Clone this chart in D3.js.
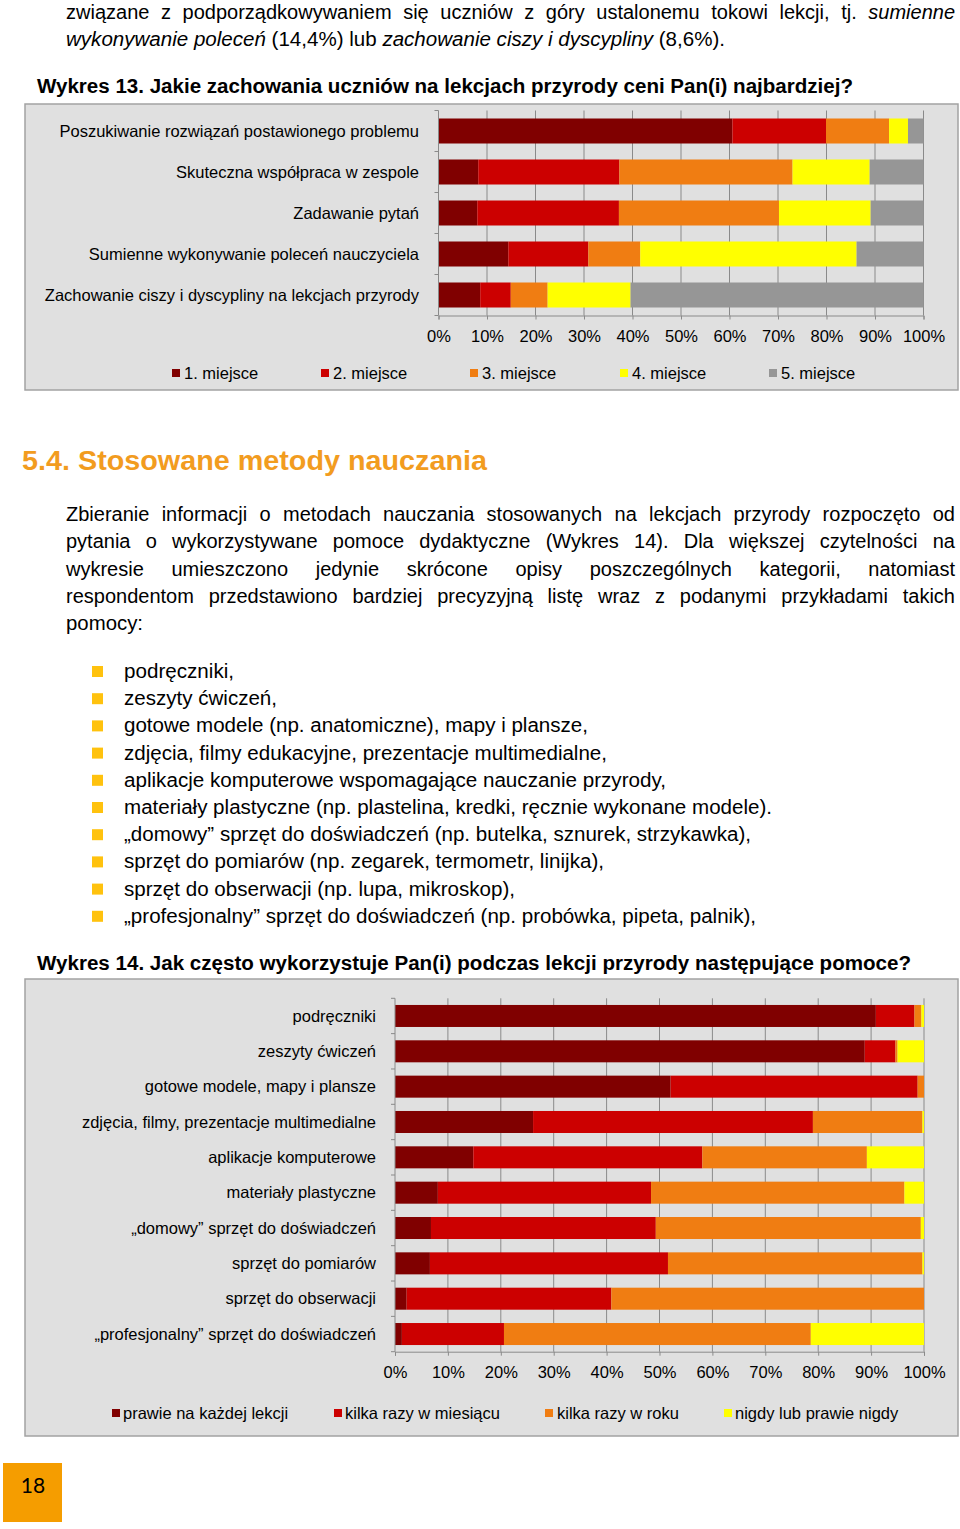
<!DOCTYPE html>
<html><head><meta charset="utf-8">
<script src="https://cdn.jsdelivr.net/npm/d3@7"></script>
<style>body{margin:0;background:#fff}svg{display:block}</style>
</head><body><svg id="page" width="960" height="1529"></svg>
<script>
// ---------- DATA ----------
const categories1 = [
  "Poszukiwanie rozwiązań postawionego problemu",
  "Skuteczna współpraca w zespole",
  "Zadawanie pytań",
  "Sumienne wykonywanie poleceń nauczyciela",
  "Zachowanie ciszy i dyscypliny na lekcjach przyrody"
];
const series1Names = ["1. miejsce", "2. miejsce", "3. miejsce", "4. miejsce", "5. miejsce"];
const place1 = [60.6, 8.2, 8.0, 14.4, 8.6];
const place2 = [19.3, 29.1, 29.2, 16.5, 6.3];
const place3 = [13.0, 35.7, 33.0, 10.7, 7.6];
const place4 = [3.9, 15.9, 18.9, 44.6, 17.1];
const place5 = [3.2, 11.1, 10.9, 13.8, 60.4];

const categories2 = [
  "podręczniki",
  "zeszyty ćwiczeń",
  "gotowe modele, mapy i plansze",
  "zdjęcia, filmy, prezentacje multimedialne",
  "aplikacje komputerowe",
  "materiały plastyczne",
  "„domowy” sprzęt do doświadczeń",
  "sprzęt do pomiarów",
  "sprzęt do obserwacji",
  "„profesjonalny” sprzęt do doświadczeń"
];
const series2Names = ["prawie na każdej lekcji", "kilka razy w miesiącu", "kilka razy w roku", "nigdy lub prawie nigdy"];
const everyLesson = [90.9, 88.8, 52.1, 26.1, 14.8, 8.1, 6.8, 6.6, 2.2, 1.3];
const fewMonthly  = [7.3, 5.8, 46.7, 52.9, 43.3, 40.3, 42.5, 45.0, 38.7, 19.3];
const fewYearly   = [1.3, 0.4, 1.2, 20.7, 31.1, 47.9, 50.1, 48.1, 59.1, 58.0];
const never       = [0.5, 5.0, 0.0, 0.3, 10.8, 3.7, 0.6, 0.3, 0.0, 21.4];

const tickValues = [0, 10, 20, 30, 40, 50, 60, 70, 80, 90, 100];
const tickLabels = ["0%", "10%", "20%", "30%", "40%", "50%", "60%", "70%", "80%", "90%", "100%"];

const bulletItems = [
  "podręczniki,",
  "zeszyty ćwiczeń,",
  "gotowe modele (np. anatomiczne), mapy i plansze,",
  "zdjęcia, filmy edukacyjne, prezentacje multimedialne,",
  "aplikacje komputerowe wspomagające nauczanie przyrody,",
  "materiały plastyczne (np. plastelina, kredki, ręcznie wykonane modele).",
  "„domowy” sprzęt do doświadczeń (np. butelka, sznurek, strzykawka),",
  "sprzęt do pomiarów (np. zegarek, termometr, linijka),",
  "sprzęt do obserwacji (np. lupa, mikroskop),",
  "„profesjonalny” sprzęt do doświadczeń (np. probówka, pipeta, palnik),"
];
const bulletWidths = [110, 153, 464, 483, 542, 648, 627, 480, 391, 632];

// ---------- STYLE ----------
const FONT = "'Liberation Sans', Arial, sans-serif";
const colors1 = ["#800000", "#cc0000", "#f07d12", "#ffff00", "#969696"];
const colors2 = ["#800000", "#cc0000", "#f07d12", "#ffff00"];

const svg = d3.select("#page");

function textLine(x, y, parts, o) {
  const t = svg.append("text").attr("x", x).attr("y", y)
    .attr("font-family", FONT).attr("font-size", o.size || 20)
    .attr("font-weight", o.weight || "normal")
    .attr("fill", o.fill || "#000");
  parts.forEach(p => {
    t.append("tspan").attr("font-style", p.italic ? "italic" : "normal").text(p.t);
  });
  const full = parts.map(p => p.t).join("");
  const w = t.node().getComputedTextLength();
  if (o.width) {
    const spaces = (full.match(/ /g) || []).length;
    if (o.justify && w < o.width && spaces > 0) {
      t.attr("word-spacing", (o.width - w) / spaces);
    } else {
      t.attr("textLength", o.width).attr("lengthAdjust", "spacingAndGlyphs");
    }
  }
  return t;
}

// ---------- TOP TEXT ----------
textLine(66, 19, [{t: "związane z podporządkowywaniem się uczniów z góry ustalonemu tokowi lekcji, tj. "}, {t: "sumienne", italic: true}], {width: 889, justify: true});
textLine(66, 46, [{t: "wykonywanie poleceń", italic: true}, {t: " (14,4%) lub "}, {t: "zachowanie ciszy i dyscypliny", italic: true}, {t: " (8,6%)."}], {width: 659});
textLine(37, 93, [{t: "Wykres 13. Jakie zachowania uczniów na lekcjach przyrody ceni Pan(i) najbardziej?"}], {weight: "bold", width: 816});

// ---------- CHART helper ----------
function stackedChart(cfg) {
  const {box, cats, seriesNames, seriesArrays, colors, xRange, yRange, pad, labelX, tickY, legendY, legendSq, legendTx, size} = cfg;
  svg.append("rect").attr("x", box[0]).attr("y", box[1]).attr("width", box[2]).attr("height", box[3])
    .attr("fill", "#e0e0e0").attr("stroke", "#a3a3a3").attr("stroke-width", 1.5);

  const table = cats.map((c, i) => {
    const row = {cat: c};
    seriesNames.forEach((s, j) => row[s] = seriesArrays[j][i]);
    return row;
  });
  const stacked = d3.stack().keys(seriesNames)(table);

  const x = d3.scaleLinear().domain([0, 100]).range(xRange);
  const y = d3.scaleBand().domain(cats).range(yRange).paddingInner(pad).paddingOuter(pad / 2);

  // gridlines
  svg.append("g").selectAll("line").data(tickValues.slice(1)).join("line")
    .attr("x1", d => x(d)).attr("x2", d => x(d))
    .attr("y1", yRange[0]).attr("y2", yRange[1])
    .attr("stroke", "#8a8a8a").attr("stroke-width", 1);

  // bars
  svg.append("g").selectAll("g").data(stacked).join("g")
    .attr("fill", (d, i) => colors[i])
    .selectAll("rect").data(d => d).join("rect")
    .attr("x", d => x(d[0]))
    .attr("y", d => y(d.data.cat))
    .attr("width", d => Math.max(0, x(d[1]) - x(d[0])))
    .attr("height", y.bandwidth());

  // y axis line with ticks at category boundaries
  const ya = svg.append("g");
  ya.append("line").attr("x1", xRange[0]).attr("x2", xRange[0]).attr("y1", yRange[0]).attr("y2", yRange[1])
    .attr("stroke", "#8a8a8a");
  const bounds = cats.map(c => y(c) - y.step() * pad / 2).concat([yRange[1]]);
  ya.selectAll("line.t").data(bounds).join("line").attr("class", "t")
    .attr("x1", xRange[0] - 4).attr("x2", xRange[0]).attr("y1", d => d).attr("y2", d => d)
    .attr("stroke", "#8a8a8a");

  // x axis
  const xa = d3.axisBottom(x).tickValues(tickValues).tickFormat((d, i) => tickLabels[i]).tickSize(4).tickPadding(8);
  const gx = svg.append("g").attr("transform", `translate(0,${yRange[1]})`).call(xa);
  gx.select(".domain").attr("stroke", "#8a8a8a");
  gx.selectAll(".tick line").attr("stroke", "#8a8a8a");
  gx.selectAll(".tick text").attr("font-family", FONT).attr("font-size", size).attr("fill", "#000")
    .attr("dy", null).attr("y", tickY - yRange[1]);

  // category labels
  svg.append("g").selectAll("text").data(cats).join("text")
    .attr("x", labelX).attr("y", d => y(d) + y.bandwidth() / 2).attr("dy", "0.35em")
    .attr("text-anchor", "end").attr("font-family", FONT).attr("font-size", size).attr("fill", "#000")
    .text(d => d);

  // legend
  const lg = svg.append("g").selectAll("g").data(seriesNames).join("g");
  lg.append("rect").attr("x", (d, i) => legendSq[i]).attr("y", legendY - 4).attr("width", 8).attr("height", 8)
    .attr("fill", (d, i) => colors[i]);
  lg.append("text").attr("x", (d, i) => legendTx[i]).attr("y", legendY).attr("dy", "0.35em")
    .attr("font-family", FONT).attr("font-size", size).attr("fill", "#000").text(d => d);
}

stackedChart({
  box: [25, 104, 933, 286],
  cats: categories1, seriesNames: series1Names,
  seriesArrays: [place1, place2, place3, place4, place5], colors: colors1,
  xRange: [438.5, 923.5], yRange: [110.5, 315.5], pad: 0.39,
  labelX: 419, tickY: 342, legendY: 373,
  legendSq: [172, 321, 470, 620, 769], legendTx: [184, 333, 482, 632, 781], size: 16.5
});

// ---------- SECTION 5.4 ----------
textLine(22, 470, [{t: "5.4. Stosowane metody nauczania"}], {size: 27, weight: "bold", fill: "#f29c1f", width: 465});
const para = [
  "Zbieranie informacji o metodach nauczania stosowanych na lekcjach przyrody rozpoczęto od",
  "pytania o wykorzystywane pomoce dydaktyczne (Wykres 14). Dla większej czytelności na",
  "wykresie umieszczono jedynie skrócone opisy poszczególnych kategorii, natomiast",
  "respondentom przedstawiono bardziej precyzyjną listę wraz z podanymi przykładami takich"
];
const paraY = [521, 548, 576, 603];
para.forEach((s, i) => textLine(66, paraY[i], [{t: s}], {width: 889, justify: true}));
textLine(66, 630, [{t: "pomocy:"}], {width: 77});

bulletItems.forEach((s, i) => {
  const by = 678 + i * 27.2;
  svg.append("rect").attr("x", 92).attr("y", by - 12).attr("width", 11).attr("height", 11).attr("fill", "#ffc20e");
  textLine(124, by, [{t: s}], {width: bulletWidths[i]});
});

textLine(37, 970, [{t: "Wykres 14. Jak często wykorzystuje Pan(i) podczas lekcji przyrody następujące pomoce?"}], {weight: "bold", width: 874});

stackedChart({
  box: [25, 979, 933, 457],
  cats: categories2, seriesNames: series2Names,
  seriesArrays: [everyLesson, fewMonthly, fewYearly, never], colors: colors2,
  xRange: [395, 924], yRange: [998.3, 1351.7], pad: 0.377,
  labelX: 376, tickY: 1378, legendY: 1413,
  legendSq: [112, 334, 545, 724], legendTx: [123, 345, 557, 735], size: 16.5
});

// ---------- PAGE NUMBER ----------
svg.append("rect").attr("x", 3).attr("y", 1463).attr("width", 59).attr("height", 59).attr("fill", "#f59d00");
svg.append("text").attr("x", 33).attr("y", 1486).attr("dy", "0.35em").attr("text-anchor", "middle")
  .attr("font-family", "Lato, 'Open Sans', sans-serif").attr("font-size", 21).attr("fill", "#000").text("18");
</script></body></html>
